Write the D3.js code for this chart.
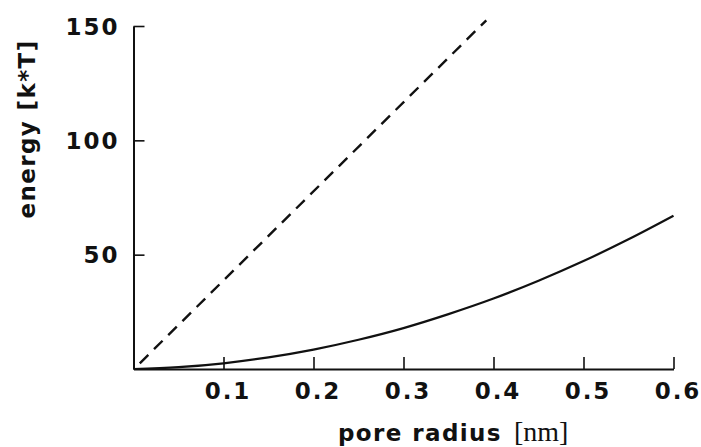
<!DOCTYPE html>
<html>
<head>
<meta charset="utf-8">
<script src="https://cdn.jsdelivr.net/npm/d3@7"></script>
<style>
  html, body { margin: 0; padding: 0; background: #fff; }
  svg { display: block; }
  .tick-label { font-family: "DejaVu Sans", sans-serif; font-weight: bold; font-size: 23px; fill: #111; letter-spacing: 2px; }
  .axis-title { font-family: "DejaVu Sans", sans-serif; font-weight: bold; font-size: 23px; fill: #111; letter-spacing: 1.4px; }
  .unit { font-family: "Liberation Serif", serif; font-size: 28px; fill: #111; }
</style>
</head>
<body>
<svg id="chart" width="701" height="447"></svg>
<script>
// Pore formation energy vs. pore radius
const radius = [0, 0.05, 0.1, 0.15, 0.2, 0.25, 0.3, 0.35, 0.4, 0.45, 0.5, 0.55, 0.6];
const energySolid = [0, 0.8, 2.5, 5.1, 8.5, 12.8, 17.9, 24.0, 30.8, 38.6, 47.2, 56.7, 67.0];
const radiusDashed = [0.007, 0.392];
const energyDashed = [2.5, 152.5];
const xTicks = [0.1, 0.2, 0.3, 0.4, 0.5, 0.6];
const yTicks = [50, 100, 150];

const svg = d3.select("#chart");
const x = d3.scaleLinear().domain([0, 0.6]).range([133.5, 673.5]);
const y = d3.scaleLinear().domain([0, 150]).range([369, 26]);

const ink = "#111";

// axes
const xAxis = d3.axisBottom(x).tickValues(xTicks).tickSizeInner(-12).tickSizeOuter(0).tickFormat(d3.format(".1f"));
const gx = svg.append("g").attr("transform", `translate(0,${y(0)})`).call(xAxis);
gx.select(".domain").attr("stroke", ink).attr("stroke-width", 2);
gx.selectAll(".tick line").attr("stroke", ink).attr("stroke-width", 1.6);
gx.selectAll(".tick text").attr("class", "tick-label").attr("dy", null).attr("y", 30).attr("dx", 4);

const yAxis = d3.axisLeft(y).tickValues(yTicks).tickSizeInner(-11).tickSizeOuter(0).tickFormat(d3.format("d"));
const gy = svg.append("g").attr("transform", `translate(${x(0)},0)`).call(yAxis);
gy.select(".domain").attr("stroke", ink).attr("stroke-width", 2);
gy.selectAll(".tick line").attr("stroke", ink).attr("stroke-width", 1.6);
gy.selectAll(".tick text").attr("class", "tick-label").attr("x", -14).attr("dy", "0.36em");
svg.selectAll("g").attr("font-family", null).attr("font-size", null);

// curves
const line = d3.line().x(d => x(d[0])).y(d => y(d[1])).curve(d3.curveMonotoneX);

svg.append("path")
  .datum(radius.map((r, i) => [r, energySolid[i]]))
  .attr("d", line)
  .attr("fill", "none")
  .attr("stroke", ink)
  .attr("stroke-width", 2.2);

svg.append("path")
  .datum(radiusDashed.map((r, i) => [r, energyDashed[i]]))
  .attr("d", d3.line().x(d => x(d[0])).y(d => y(d[1])))
  .attr("fill", "none")
  .attr("stroke", ink)
  .attr("stroke-width", 2.4)
  .attr("stroke-dasharray", "12,8");

// axis titles
svg.append("text")
  .attr("class", "axis-title")
  .attr("transform", "translate(35,129) rotate(-90)")
  .attr("text-anchor", "middle")
  .text("energy [k*T]");

const xt = svg.append("text").attr("x", 338).attr("y", 441);
xt.append("tspan").attr("class", "axis-title").text("pore radius");
xt.append("tspan").attr("class", "unit").attr("dx", 12).text("[nm]");
</script>
</body>
</html>
